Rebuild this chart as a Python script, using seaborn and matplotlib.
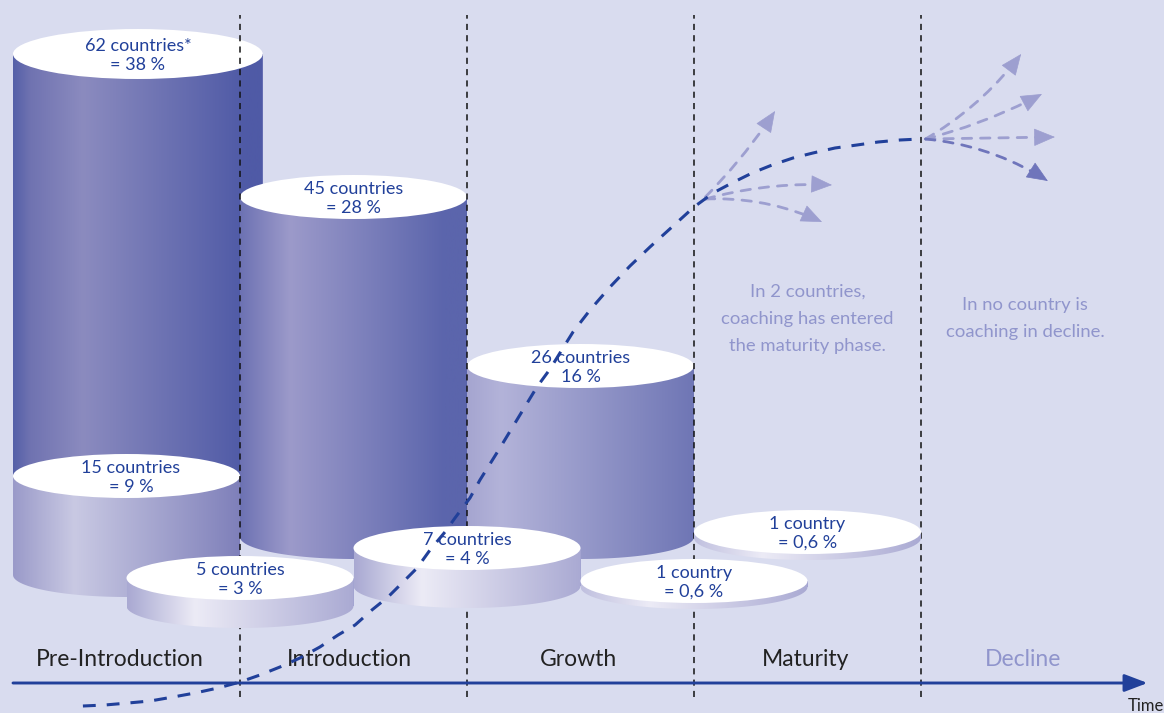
import matplotlib
matplotlib.use("Agg")
import matplotlib.pyplot as plt
import numpy as np
import seaborn as sns
from matplotlib.colors import LinearSegmentedColormap
from matplotlib.patches import Ellipse, PathPatch
from matplotlib.path import Path

# x is in life-cycle stages (0 = start of pre-introduction), y in drawn height above the page foot
stages = ["Pre-Introduction", "Introduction", "Growth", "Maturity", "Decline"]
stage_edges = [1, 2, 3, 4]

country_labels = ["62 countries*", "45 countries", "26 countries", "15 countries",
                  "7 countries", "5 countries", "1 country", "1 country"]
share_labels = ["= 38 %", "= 28 %", "16 %", "= 9 %", "= 4 %", "= 3 %", "= 0,6 %", "= 0,6 %"]
cyl_start = [0, 1, 2, 0, 1.5, 0.5, 2.5, 3]
cyl_width = [1.1, 1, 1, 1, 1, 1, 1, 1]
cyl_top = [659, 516, 347, 237, 165, 135, 132, 181]
cyl_base = [200, 176, 176, 138, 127, 107, 126, 175]

# S-curve
curve_time = [0.308, 0.405, 0.507, 0.604, 0.705, 0.802, 0.903, 1.0, 1.088, 1.176, 1.264, 1.352,
              1.432, 1.507, 1.581, 1.652, 1.714, 1.780, 1.837, 1.903, 1.947, 2.013, 2.057, 2.145,
              2.225, 2.308, 2.366, 2.423, 2.467, 2.542, 2.630, 2.718, 2.806, 2.903, 3.0, 3.084,
              3.167, 3.256, 3.344, 3.436, 3.524, 3.621, 3.718, 3.811, 3.907, 3.996]
curve_level = [7, 8, 10, 12, 16, 20, 25, 31, 38, 46, 55, 66,
               78, 88, 103, 116, 130, 145, 163, 181, 195, 215, 233, 265,
               295, 326, 344, 365, 381, 403, 426, 447, 466, 486, 506, 520,
               530, 540, 548, 555, 560, 565, 568, 571, 573, 574]

# possible futures: start, end
branch_x0 = [3.05, 3.05, 3.05, 4.02, 4.02, 4.02, 4.02]
branch_y0 = [516, 514, 514, 574, 574, 574, 574]
branch_x1 = [3.357, 3.608, 3.564, 4.441, 4.533, 4.590, 4.559]
branch_y1 = [602, 528, 491, 659, 619, 576, 532]
branch_bend = [0.05, -0.08, -0.12, 0.1, 0.06, 0.0, -0.12]

BG = "#d9dcef"
BLUE = "#21409a"
PALE = "#9d9fd0"
NOTE = "#9095cc"
STAGE_PX = 227

sns.set_theme(style="white")
plt.rcParams["font.family"] = ["Lato", "DejaVu Sans"]

fig = plt.figure(figsize=(11.64, 7.13), dpi=100, facecolor=BG)
ax = fig.add_axes([0, 0, 1, 1], facecolor=BG)

ramps = [
    [(0, "#5560a8"), (0.07, "#7073b1"), (0.28, "#8b8bbf"), (0.93, "#4f5aa6"), (1, "#4f5aa6")],
    [(0, "#6d72b3"), (0.22, "#9c9aca"), (0.9, "#5b65ac"), (1, "#5b65ac")],
    [(0, "#a5a5d0"), (0.15, "#b3b3d9"), (1, "#6f76b5")],
    [(0, "#9a9ac9"), (0.27, "#c9c9e3"), (1, "#7f80ba")],
    [(0, "#a9a9d2"), (0.3, "#ecebf6"), (1, "#aaaad3")],
    [(0, "#a9a9d2"), (0.3, "#ecebf6"), (1, "#aaaad3")],
    [(0, "#c0c0df"), (0.3, "#ecebf6"), (1, "#aaaad3")],
    [(0, "#c0c0df"), (0.3, "#ecebf6"), (1, "#aaaad3")],
]
RY = 22
RY_FIRST = 25
z_order = [1, 2, 3, 4, 7, 7.1, 7.2, 7.3]
label_shift = [0, 0, 0, 0.02, 0, 0, 0, 0]

for i in range(len(cyl_top)):
    x0, w = cyl_start[i], cyl_width[i]
    top, base = cyl_top[i], cyl_base[i]
    z = z_order[i]
    ry = RY_FIRST if i == 0 else RY

    # the body is a seaborn bar, lifted onto its base
    n_before = len(ax.patches)
    sns.barplot(x=[x0 + w / 2], y=[top], width=w, native_scale=True, color=PALE, ax=ax,
                saturation=1, zorder=z)
    for bar in ax.patches[n_before:]:
        bar.set_y(base)
        bar.set_height(top - base)
        bar.set_linewidth(0)

    # shaded side with a rounded foot
    t = np.linspace(np.pi, 2 * np.pi, 60)
    foot_x = x0 + w / 2 + w / 2 * np.cos(t)
    foot_y = base + ry * np.sin(t)
    verts = [(x0, top)] + list(zip(foot_x, foot_y)) + [(x0 + w, top), (x0, top)]
    shape = Path(verts, closed=True)
    cmap = LinearSegmentedColormap.from_list(f"cyl{i}", ramps[i])
    im = ax.imshow(np.linspace(0, 1, 256)[None, :], cmap=cmap, aspect="auto", origin="lower",
                   extent=(x0, x0 + w, base - ry - 1, top), zorder=z + 0.1)
    im.set_clip_path(PathPatch(shape, transform=ax.transData))

    ax.add_patch(Ellipse((x0 + w / 2, top), w, 2 * ry, fc="white", ec="none", zorder=z + 0.2))
    label_x = x0 + w / 2 + label_shift[i]
    ax.text(label_x, top + 8, country_labels[i], ha="center", va="center",
            color=BLUE, fontsize=13, zorder=z + 0.3)
    ax.text(label_x, top - 11, share_labels[i], ha="center", va="center",
            color=BLUE, fontsize=13, zorder=z + 0.3)

# stage boundaries
for edge in stage_edges:
    ax.plot([edge, edge], [16, 698], color="#111111", lw=1.1, dashes=(4, 3.4), zorder=5)

# time axis
ax.annotate("", xy=(4.998, 30), xytext=(0, 30),
            arrowprops=dict(arrowstyle="-|>,head_length=1.0,head_width=0.38", mutation_scale=14,
                            color=BLUE, lw=2.1, shrinkA=0, shrinkB=0), zorder=6)
ax.text(4.912, 7, "Time", ha="left", va="center", color="#222222", fontsize=12, zorder=6)

for i, name in enumerate(stages):
    color = NOTE if name == "Decline" else "#222222"
    xpos = [0.47, 1.48, 2.49, 3.49, 4.45][i]
    ax.text(xpos, 54, name, ha="center", va="center", color=color, fontsize=16.5, zorder=6)

ax.text(3.5, 394, "In 2 countries,\ncoaching has entered\nthe maturity phase.", ha="center", va="center",
        color=NOTE, fontsize=13.3, linespacing=1.85, zorder=6)
ax.text(4.46, 394.5, "In no country is\ncoaching in decline.", ha="center", va="center",
        color=NOTE, fontsize=13.3, linespacing=1.85, zorder=6)

# branches first so the main curve stays on top
for i in range(len(branch_x0)):
    col = "#6f75bb" if i == 6 else PALE
    start = np.array([branch_x0[i], branch_y0[i]])
    tip = np.array([branch_x1[i], branch_y1[i]])
    ax.annotate("", xy=tip, xytext=start, zorder=8,
                arrowprops=dict(arrowstyle="-", color=col, lw=2,
                                linestyle=(0, (3.4, 3.2)), shrinkA=0, shrinkB=10,
                                connectionstyle=f"arc3,rad={branch_bend[i]}"))
    # solid head along the end tangent of the arc
    dx, dy = (tip[0] - start[0]) * STAGE_PX, tip[1] - start[1]
    ctrl_x = (start[0] + tip[0]) / 2 * STAGE_PX + branch_bend[i] * dy
    ctrl_y = (start[1] + tip[1]) / 2 - branch_bend[i] * dx
    tx, ty = tip[0] * STAGE_PX - ctrl_x, tip[1] - ctrl_y
    norm = np.hypot(tx, ty)
    back = (tip[0] - tx / norm * 18 / STAGE_PX, tip[1] - ty / norm * 18)
    ax.annotate("", xy=tip, xytext=back, zorder=8,
                arrowprops=dict(arrowstyle="-|>,head_length=1.0,head_width=0.42", mutation_scale=14,
                                color=col, lw=0.5, shrinkA=0, shrinkB=0))

sns.lineplot(x=curve_time, y=curve_level, sort=False, estimator=None, color=BLUE, lw=2.2,
             dashes=(4.2, 3.6), ax=ax, zorder=9)

ax.set_xlim(-13 / STAGE_PX, (1164 - 13) / STAGE_PX)
ax.set_ylim(0, 713)
ax.axis("off")

fig.savefig("out.png", dpi=100, facecolor=BG)
